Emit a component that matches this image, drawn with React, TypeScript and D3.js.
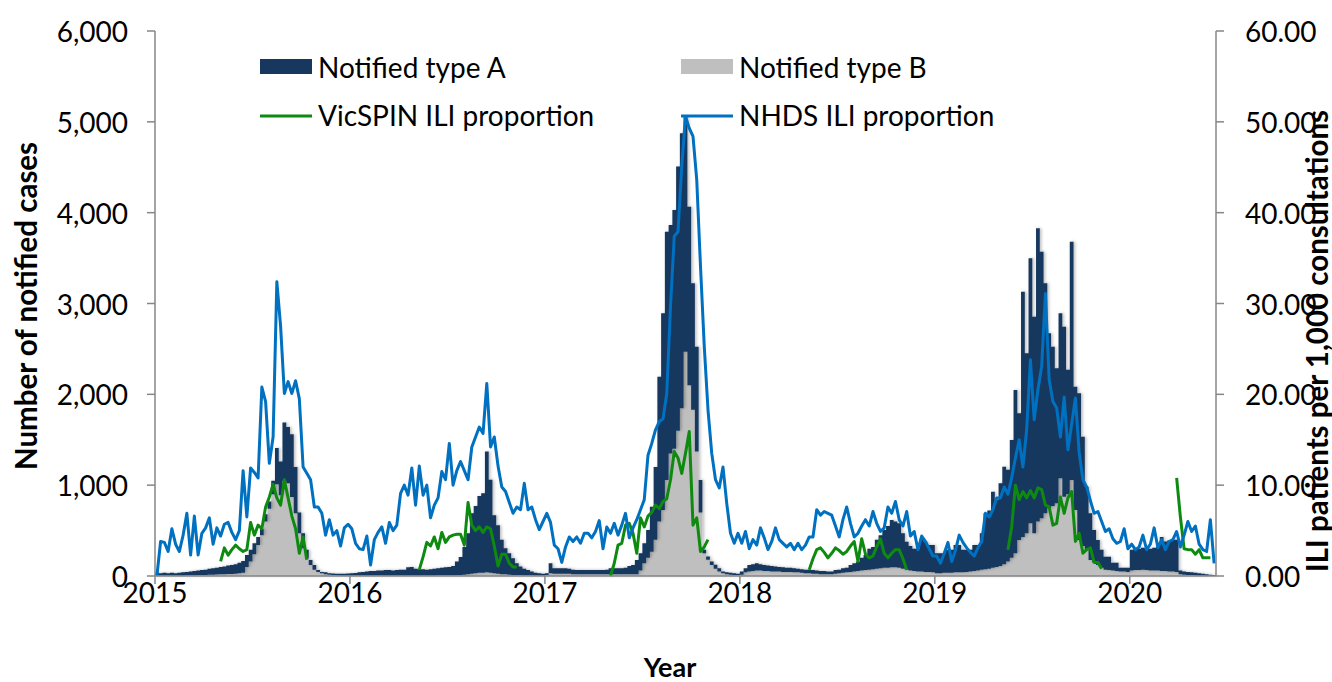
import React from "react";
import * as d3 from "d3";

const FONT = "Lato, 'Open Sans', sans-serif";

const firstYear = 2015;
const weeksPerYear = 52;
const yearTicks = [2015, 2016, 2017, 2018, 2019, 2020];
const caseTicks = [0, 1000, 2000, 3000, 4000, 5000, 6000];
const iliTicks = [0, 10, 20, 30, 40, 50, 60];
const legendLabels = ["Notified type A", "Notified type B", "VicSPIN ILI proportion", "NHDS ILI proportion"];

// weekly notified cases, type A (one row per year)
const notifiedA = [
  30,25,30,25,30,25,30,35,38,42,46,50,54,58,65,70,74,82,86,94,98,104,115,130,130,130,120,90,70,80,80,150,400,370,640,620,690,510,230,165,95,56,50,21,15,22,16,18,17,19,20,23,
  25,27,35,40,45,50,50,55,55,60,60,55,60,65,65,90,94,74,69,69,64,69,74,78,83,87,92,102,150,198,305,450,665,740,845,875,1330,1025,640,535,380,287,235,183,130,95,72,57,43,29,25,20,
  20,110,60,60,60,60,55,50,45,45,45,45,45,45,45,45,50,65,65,65,65,70,90,100,156,190,220,306,495,800,1594,2165,2734,2515,2630,2907,3028,2587,1966,1392,1155,357,40,35,40,45,35,20,20,20,18,15,
  35,45,70,75,80,70,65,60,60,55,50,50,45,45,45,40,40,40,40,40,35,35,35,30,30,40,40,50,50,75,90,105,140,165,230,245,320,365,416,460,522,505,490,390,308,270,245,250,365,333,295,300,
  220,220,215,255,255,300,300,250,245,240,285,280,400,615,640,838,737,910,1073,1010,1297,1798,1395,2700,1982,2918,2385,3228,2936,2532,1927,1755,1487,1816,1872,1370,2624,1357,1615,1204,697,514,356,276,200,142,146,85,90,40,40,45,
  230,235,235,240,235,240,250,260,375,325,340,350,355,40,35,33,30,27,24,20,16,12,8,
];

// weekly notified cases, type B
const notifiedB = [
  5,5,5,5,5,5,5,5,7,8,9,10,11,12,15,15,16,18,19,21,22,26,30,35,100,160,240,340,450,600,740,900,1010,890,1050,1020,870,690,470,305,195,120,70,45,30,18,14,10,8,6,5,5,
  5,5,5,5,5,5,5,5,5,5,5,5,5,5,5,5,6,6,6,6,6,6,6,7,7,8,8,8,10,12,15,20,25,30,35,35,40,35,30,25,20,18,15,12,10,10,8,8,7,6,5,5,
  10,30,25,25,25,25,25,20,20,20,20,20,20,20,20,20,20,20,20,20,20,20,20,20,20,60,140,200,268,400,600,727,1057,1350,1400,1600,1846,2470,2100,1830,1370,700,250,180,120,80,50,30,20,15,12,10,
  15,40,50,55,60,60,55,55,50,50,50,45,45,45,40,40,35,30,30,25,25,20,20,20,20,25,30,35,40,45,50,55,60,65,70,75,80,85,90,90,95,95,90,80,70,60,55,50,50,45,45,40,
  30,30,35,35,35,40,40,40,45,50,55,60,70,75,80,90,100,110,130,160,200,250,396,430,470,580,470,600,635,690,745,770,800,1076,873,900,1057,727,396,330,286,176,150,120,90,70,66,60,55,50,50,45,
  60,65,65,70,65,60,60,60,55,55,50,50,45,20,15,12,10,8,6,5,4,3,2,
];

// weekly NHDS ILI patients per 1,000 consultations
const nhdsIli = [
  0,3.8,3.7,2.7,5.2,3.5,2.7,4.5,6.9,2.3,6.6,2.3,4.7,5.3,6.4,3.5,5.3,4.4,5.7,5.9,4.8,4.0,5.0,11.6,6.5,11.9,11.4,10.8,20.8,19.2,12.4,15.3,32.4,27.5,20.1,21.4,20.1,21.5,19.5,12.0,11.3,10.6,7.6,7.6,6.9,4.5,6.2,4.5,5.0,3.3,5.3,5.7,5.2,3.6,
  3.0,2.9,4.4,1.2,4.0,4.8,5.4,3.6,5.9,5.0,5.6,9.1,10.0,8.9,11.9,7.8,12.1,8.9,10.0,6.4,7.8,8.6,11.5,10.6,14.6,10.0,11.6,12.6,11.6,10.6,14.2,15.3,16.4,15.7,21.2,14.2,15.3,12.1,9.8,9.3,8.1,6.9,7.6,7.3,10.2,7.3,7.6,6.2,5.1,6.0,6.9,
  5.9,3.4,3.0,1.5,3.2,4.3,3.8,4.3,3.6,4.7,4.7,4.2,4.9,6.1,3.0,5.4,4.7,5.8,4.5,5.6,6.9,4.2,5.3,6.2,7.3,8.4,13.3,14.6,16.1,17.0,17.3,20.1,29.7,37.4,37.9,45.1,50.6,49.3,48.4,43.6,34.1,25.3,18.3,13.5,10.6,9.7,12.0,8.0,4.7,3.6,4.7,3.6,
  4.9,3.0,4.0,3.4,5.3,4.2,2.9,3.8,5.3,4.0,3.6,3.2,3.6,2.9,3.6,2.9,3.4,4.3,4.3,7.3,6.7,7.1,6.9,6.7,5.5,4.3,6.2,7.6,5.8,4.3,4.7,5.5,6.2,5.5,7.1,5.8,4.9,5.3,7.6,6.9,8.2,6.2,5.5,7.1,4.4,4.9,2.9,4.4,3.8,3.0,2.2,
  2.2,1.4,2.5,3.7,1.6,2.8,4.5,3.7,3.1,2.6,2.2,3.1,3.8,6.9,6.5,7.3,8.6,8.6,9.8,9.0,10.8,13.0,15.0,12.0,16.1,23.8,17.2,20.5,23.1,31.1,21.6,19.2,18.5,15.3,19.7,13.9,16.7,19.6,13.6,10.6,9.8,8.3,6.9,7.1,6.0,4.9,5.2,4.1,3.6,3.8,5.2,3.0,
  3.5,2.9,3.2,4.5,2.9,3.5,5.3,3.1,4.0,2.9,3.8,4.0,4.9,3.2,4.5,6.0,4.9,5.5,3.5,2.9,2.7,6.2,1.4,
];

// VicSPIN ILI proportion, reported during each season (startWeek = weeks since start of 2015)
const vicspinSeasons = [
  { startWeek: 17, values: [1.6,3.1,2.3,2.9,3.4,3.0,2.7,2.9,5.9,4.5,5.6,5.2,7.6,8.7,10.1,8.6,7.8,10.6,8.6,6.6,5.2,2.5,4.3,1.8] },
  { startWeek: 70, values: [0.7,2.1,3.7,3.3,4.3,3.0,4.8,3.7,4.3,4.5,4.6,4.6,3.4,8.1,5.6,5.0,5.4,4.8,5.4,5.2,3.3,1.1,2.4,2.4,1.4,1.0,1.0] },
  { startWeek: 121, values: [0,1.4,3.4,3.6,5.6,5.8,4.7,2.5,6.4,5.4,6.6,7.0,7.8,7.4,8.2,8.5,10.6,13.7,13.0,11.3,13.5,15.9,5.6,6.4,2.7,3.2,4.0] },
  { startWeek: 174, values: [0.7,1.9,2.9,3.1,2.6,2.0,2.5,3.1,2.8,2.4,2.7,3.3,3.8,1.6,4.1,2.4,2.0,2.2,3.2,4.1,2.5,2.0,2.5,2.9,2.9,1.9,0.7] },
  { startWeek: 227, values: [2.9,5.4,10.0,8.4,9.3,8.6,9.4,8.6,9.7,9.5,7.8,7.6,5.6,5.8,8.7,6.9,8.6,9.3,3.8,4.7,2.5,2.9,3.1,1.5,1.5,0.8] },
  { startWeek: 272, values: [10.8,6.5,3.0,2.9,2.9,2.4,2.9,2.0,2.0,2.0] },
];

const COLOR_A = "#17375e";
const COLOR_B = "#bfbfbf";
const COLOR_VIC = "#0f8a10";
const COLOR_NHDS = "#0070c0";
const AXIS = "#868686";

export default function App() {
  const plot = { left: 155, right: 1216, top: 31, bottom: 576 };
  const nWeeks = notifiedA.length;
  const x = d3.scaleLinear().domain([firstYear, firstYear + nWeeks / weeksPerYear]).range([plot.left, plot.right]);
  const yL = d3.scaleLinear().domain([0, 6000]).range([plot.bottom, plot.top]);
  const yR = d3.scaleLinear().domain([0, 60]).range([plot.bottom, plot.top]);
  const weekStart = (i: number) => firstYear + i / weeksPerYear;
  const weekMid = (i: number) => firstYear + (i + 0.5) / weeksPerYear;

  const rows = notifiedA.map((a, i) => ({ i, a, b: notifiedB[i] }));
  const stepRows = [...rows, { ...rows[rows.length - 1], i: nWeeks }];
  const stacked = d3.stack<any>().keys(["b", "a"])(stepRows);
  const area = d3
    .area<any>()
    .curve(d3.curveStepAfter)
    .x((d: any) => x(weekStart(d.data.i)))
    .y0((d: any) => yL(d[0]))
    .y1((d: any) => yL(d[1]));

  const nhdsLine = d3
    .line<number>()
    .x((_, i) => x(weekMid(i)))
    .y((d) => yR(d));

  const fs = 28;
  const titleFs = 29.5;

  return (
    <svg width={1332} height={682} style={{ position: "absolute", left: 0, top: 0, background: "#fff" }} fontFamily={FONT}>
      <defs>
        <filter id="shadow" x="-2%" y="-5%" width="104%" height="110%">
          <feDropShadow dx="1.5" dy="0" stdDeviation="1.5" floodColor="#000" floodOpacity="0.28" />
        </filter>
      </defs>
      <rect x={0} y={0} width={1332} height={682} fill="#fff" />

      {/* bars */}
      <path d={area(stacked[0] as any) || ""} fill={COLOR_B} filter="url(#shadow)" />
      <path d={area(stacked[1] as any) || ""} fill={COLOR_A} filter="url(#shadow)" />

      {/* lines */}
      {vicspinSeasons.map((s, k) => {
        const line = d3
          .line<number>()
          .x((_, j) => x(weekMid(s.startWeek + j)))
          .y((d) => yR(d));
        return <path key={k} d={line(s.values) || ""} fill="none" stroke={COLOR_VIC} strokeWidth={3} strokeLinejoin="round" />;
      })}
      <path d={nhdsLine(nhdsIli) || ""} fill="none" stroke={COLOR_NHDS} strokeWidth={3} strokeLinejoin="round" />

      {/* axes */}
      <line x1={plot.left} x2={plot.left} y1={plot.top} y2={plot.bottom} stroke={AXIS} strokeWidth={1.5} />
      <line x1={plot.right} x2={plot.right} y1={plot.top} y2={plot.bottom} stroke={AXIS} strokeWidth={1.5} />
      <line x1={plot.left} x2={plot.right} y1={plot.bottom} y2={plot.bottom} stroke={AXIS} strokeWidth={1.5} />
      {caseTicks.map((t) => (
        <g key={"l" + t}>
          <line x1={plot.left - 8} x2={plot.left} y1={yL(t)} y2={yL(t)} stroke={AXIS} strokeWidth={1.5} />
          <text x={128} y={yL(t)} textAnchor="end" dominantBaseline="central" fontSize={fs} fill="#000">
            {d3.format(",")(t)}
          </text>
        </g>
      ))}
      {iliTicks.map((t) => (
        <g key={"r" + t}>
          <line x1={plot.right} x2={plot.right + 8} y1={yR(t)} y2={yR(t)} stroke={AXIS} strokeWidth={1.5} />
          <text x={1245} y={yR(t)} textAnchor="start" dominantBaseline="central" fontSize={fs} fill="#000">
            {d3.format(".2f")(t)}
          </text>
        </g>
      ))}
      {yearTicks.map((t) => (
        <g key={"x" + t}>
          <line x1={x(t)} x2={x(t)} y1={plot.bottom} y2={plot.bottom + 8} stroke={AXIS} strokeWidth={1.5} />
          <text x={x(t)} y={592} textAnchor="middle" dominantBaseline="central" fontSize={fs} fill="#000">
            {t}
          </text>
        </g>
      ))}

      {/* axis titles */}
      <text x={670} y={666} textAnchor="middle" dominantBaseline="central" fontSize={27} fontWeight="bold" fill="#000">
        Year
      </text>
      <text transform="translate(25,306) rotate(-90)" textAnchor="middle" dominantBaseline="central" fontSize={titleFs} fontWeight="bold" fill="#000">
        Number of notified cases
      </text>
      <text transform="translate(1316,341) rotate(-90)" textAnchor="middle" dominantBaseline="central" fontSize={titleFs} fontWeight="bold" fill="#000">
        ILI patients per 1,000 consultations
      </text>

      {/* legend */}
      <rect x={260} y={59} width={52} height={15} fill={COLOR_A} />
      <text x={318} y={67} dominantBaseline="central" fontSize={fs} fill="#000">{legendLabels[0]}</text>
      <rect x={681} y={59} width={52} height={15} fill={COLOR_B} />
      <text x={739} y={67} dominantBaseline="central" fontSize={fs} fill="#000">{legendLabels[1]}</text>
      <line x1={260} x2={312} y1={116} y2={116} stroke={COLOR_VIC} strokeWidth={3} />
      <text x={318} y={115} dominantBaseline="central" fontSize={fs} fill="#000">{legendLabels[2]}</text>
      <line x1={681} x2={733} y1={116} y2={116} stroke={COLOR_NHDS} strokeWidth={3} />
      <text x={739} y={115} dominantBaseline="central" fontSize={fs} fill="#000">{legendLabels[3]}</text>
    </svg>
  );
}
